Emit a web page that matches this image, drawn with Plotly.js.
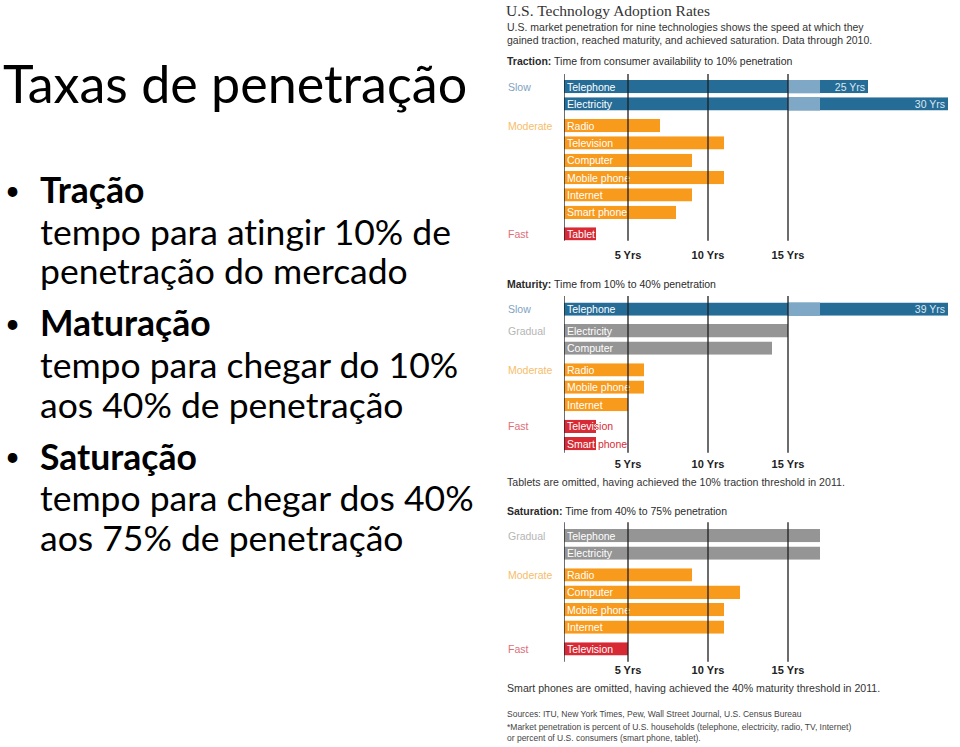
<!DOCTYPE html>
<html><head><meta charset="utf-8">
<script src="https://cdn.plot.ly/plotly-3.0.1.min.js"></script>
<style>html,body{margin:0;padding:0;background:#fff;} #chart{width:960px;height:747px;}
#chart text{font-variant-ligatures:none;font-feature-settings:"liga" 0, "dlig" 0;}</style>
</head><body><div id="chart"></div>
<script>
// ---------------- data ----------------
const tractionItems = ['Telephone','Electricity','Radio','Television','Computer','Mobile phone','Internet','Smart phone','Tablet'];
const tractionYears = [25,30,7,11,9,11,9,8,3];
const tractionSpeed = ['Slow','Slow','Moderate','Moderate','Moderate','Moderate','Moderate','Moderate','Fast'];

const maturityItems = ['Telephone','Electricity','Computer','Radio','Mobile phone','Internet','Television','Smart phone'];
const maturityYears = [39,15,14,6,6,5,3,3];
const maturitySpeed = ['Slow','Gradual','Gradual','Moderate','Moderate','Moderate','Fast','Fast'];

const saturationItems = ['Telephone','Electricity','Radio','Computer','Mobile phone','Internet','Television'];
const saturationYears = [17,17,9,12,11,11,5];
const saturationSpeed = ['Gradual','Gradual','Moderate','Moderate','Moderate','Moderate','Fast'];

const tickVals = [5,10,15];
const tickText = ['5 Yrs','10 Yrs','15 Yrs'];

const slideTitle = 'Taxas de penetração';
const bulletHeads = ['Tração','Maturação','Saturação'];
const bulletLines = [
  ['tempo para atingir 10% de','penetração do mercado'],
  ['tempo para chegar do 10%','aos 40% de penetração'],
  ['tempo para chegar dos 40%','aos 75% de penetração']
];

const chartTitle = 'U.S. Technology Adoption Rates';
const chartSubtitle = ['U.S. market penetration for nine technologies shows the speed at which they',
                       'gained traction, reached maturity, and achieved saturation. Data through 2010.'];
const panelHeads = [['Traction:','Time from consumer availability to 10% penetration'],
                    ['Maturity:','Time from 10% to 40% penetration'],
                    ['Saturation:','Time from 40% to 75% penetration']];
const panelNotes = ['', 'Tablets are omitted, having achieved the 10% traction threshold in 2011.',
                    'Smart phones are omitted, having achieved the 40% maturity threshold in 2011.'];
const sourceLines = ['Sources: ITU, New York Times, Pew, Wall Street Journal, U.S. Census Bureau',
                     '*Market penetration is percent of U.S. households (telephone, electricity, radio, TV, Internet)',
                     'or percent of U.S. consumers (smart phone, tablet).'];

// ---------------- styles ----------------
const W = 960, H = 747;
const SANS = 'Liberation Sans, Arial, sans-serif';
const SERIF = 'Liberation Serif, Times New Roman, serif';
const LEFT = 'Lato, Noto Sans, sans-serif';
const barColor = {Slow:'#256c97', Gradual:'#959595', Moderate:'#f89a1c', Fast:'#d72a35'};
const groupColor = {Slow:'#7ea3c2', Gradual:'#b5b5b5', Moderate:'#f7bd6a', Fast:'#dd6f78'};
const breakColor = '#7ea8c5';
const X_START = 1, X_MAX = 25.2, BREAK_START = 15, BREAK_END = 17, GAP = 0.25, BAR_W = 0.765;
const PX_PER_YEAR = 16, PLOT_LEFT = 564;
const px = x => x / W, py = y => 1 - y / H;
const X_DOMAIN = [px(PLOT_LEFT), px(PLOT_LEFT + (X_MAX - X_START) * PX_PER_YEAR)];

// hidden = years removed by the axis break in that panel
const panels = [
  {items:tractionItems, years:tractionYears, speed:tractionSpeed, hidden:5,
   xa:'x', ya:'y', top:74, bottom:240.7, padTop:0.73, padBot:0.39, standoff:6, headY:64.3, noteY:null},
  {items:maturityItems, years:maturityYears, speed:maturitySpeed, hidden:14,
   xa:'x2', ya:'y2', top:296, bottom:452.7, padTop:0.75, padBot:0.52, standoff:3, headY:287.3, noteY:486},
  {items:saturationItems, years:saturationYears, speed:saturationSpeed, hidden:0,
   xa:'x3', ya:'y3', top:522.3, bottom:661.7, padTop:0.77, padBot:0.74, standoff:0, headY:514.3, noteY:691.3}
];

function positions(speed){
  let g = 0;
  return speed.map((s,i) => { if(i > 0 && s !== speed[i-1]) g++; return i + g*GAP; });
}

const data = [], shapes = [], annotations = [];
const layout = {
  width: W, height: H, margin:{l:0,r:0,t:0,b:0}, paper_bgcolor:'#fff', plot_bgcolor:'rgba(0,0,0,0)',
  barmode:'overlay', showlegend:false, shapes, annotations
};

panels.forEach((p, k) => {
  const pos = positions(p.speed);
  const broken = p.years.map(v => p.hidden > 0 && v - p.hidden >= BREAK_END);
  const disp = p.years.map((v,i) => broken[i] ? v - p.hidden : v);
  const idx = broken.map((b,i) => b ? i : -1).filter(i => i >= 0);
  const common = {type:'bar', orientation:'h', xaxis:p.xa, yaxis:p.ya, width:BAR_W, base:X_START,
                  hoverinfo:'skip', textangle:0, constraintext:'none', showlegend:false};
  // coloured copy of labels (visible where label runs past bar end)
  data.push(Object.assign({}, common, {name:'ghost', x:disp.map(v => v - X_START), y:pos, text:p.items,
    textposition:'inside', insidetextanchor:'start',
    textfont:{family:SANS, size:10.5, color:p.speed.map(s => barColor[s])},
    marker:{color:'rgba(0,0,0,0)'}}));
  // main bars
  data.push(Object.assign({}, common, {name:'main', x:disp.map(v => v - X_START), y:pos, text:p.items,
    textposition:'inside', insidetextanchor:'start',
    textfont:{family:SANS, size:10.5, color:'#ffffff'},
    marker:{color:p.speed.map(s => barColor[s]), line:{width:0}}}));
  if(idx.length){
    data.push(Object.assign({}, common, {name:'break', base:BREAK_START,
      x:idx.map(() => BREAK_END - BREAK_START), y:idx.map(i => pos[i]),
      marker:{color:breakColor, line:{width:0}}}));
    data.push(Object.assign({}, common, {name:'endlabel', x:idx.map(i => disp[i] - X_START), y:idx.map(i => pos[i]),
      text:idx.map(i => p.years[i] + ' Yrs'), textposition:'inside', insidetextanchor:'end',
      textfont:{family:SANS, size:10.5, color:'#dbe7f1'}, marker:{color:'rgba(0,0,0,0)'}}));
  }
  const sfx = k === 0 ? '' : String(k+1);
  layout['xaxis'+sfx] = {domain:X_DOMAIN, range:[X_START, X_MAX], anchor:p.ya,
    showgrid:false, zeroline:false, showline:false, tickvals:tickVals, ticktext:tickText, ticks:'',
    tickfont:{family:SANS, size:11, color:'#222', weight:'bold'}, ticklabelstandoff:p.standoff, fixedrange:true};
  layout['yaxis'+sfx] = {domain:[py(p.bottom), py(p.top)],
    range:[pos[pos.length-1] + p.padBot, pos[0] - p.padTop], anchor:p.xa,
    showgrid:false, zeroline:false, showline:false, showticklabels:false, ticks:'', fixedrange:true};
  // rules drawn above bars
  [X_START].concat(tickVals).forEach(v => shapes.push({type:'line', xref:p.xa, yref:p.ya+' domain',
    x0:v, x1:v, y0:0, y1:1, layer:'above', line:{color:'#1e1e1e', width:1.3}}));
  // group labels
  p.speed.forEach((s,i) => {
    if(i === 0 || s !== p.speed[i-1]) annotations.push({xref:'paper', yref:p.ya, x:px(506), y:pos[i],
      xanchor:'left', yanchor:'middle', showarrow:false, text:s, font:{family:SANS, size:10.5, color:groupColor[s]}});
  });
  // panel heading
  annotations.push({xref:'paper', yref:'paper', x:px(505), y:py(p.headY - 0.347*10.5), xanchor:'left', yanchor:'middle',
    showarrow:false, text:'<b>'+panelHeads[k][0]+'</b> '+panelHeads[k][1], font:{family:SANS, size:10.5, color:'#2a2a2a'}});
  if(p.noteY) annotations.push({xref:'paper', yref:'paper', x:px(505), y:py(p.noteY - 0.347*10.6), xanchor:'left', yanchor:'middle',
    showarrow:false, text:panelNotes[k], font:{family:SANS, size:10.6, color:'#333'}});
});

// chart title / subtitle / sources
annotations.push({xref:'paper', yref:'paper', x:px(504), y:py(15.5 - 0.338*15.5), xanchor:'left', yanchor:'middle',
  showarrow:false, text:chartTitle, font:{family:SERIF, size:15.5, color:'#333'}});
chartSubtitle.forEach((t,i) => annotations.push({xref:'paper', yref:'paper', x:px(505), y:py(30.7 + 13*i - 0.347*10.5),
  xanchor:'left', yanchor:'middle', showarrow:false, text:t, font:{family:SANS, size:10.5, color:'#333'}}));
sourceLines.forEach((t,i) => annotations.push({xref:'paper', yref:'paper', x:px(505), y:py([716.7,730,740.5][i] - 0.347*8.5),
  xanchor:'left', yanchor:'middle', showarrow:false, text:t, font:{family:SANS, size:8.5, color:'#444'}}));

// left slide text
const TS = 52, BS = 35.5, DOT = 26;
annotations.push({xref:'paper', yref:'paper', x:px(1), y:py(103.3 - 0.387*TS), xanchor:'left', yanchor:'middle',
  showarrow:false, text:slideTitle, font:{family:LEFT, size:TS, color:'#000'}});
const headBase = [203.3, 336.7, 470];
bulletHeads.forEach((h,i) => {
  annotations.push({xref:'paper', yref:'paper', x:px(3), y:py(headBase[i] - 0.387*BS), xanchor:'left', yanchor:'middle',
    showarrow:false, text:'•', font:{family:LEFT, size:DOT, color:'#000'}});
  annotations.push({xref:'paper', yref:'paper', x:px(38), y:py(headBase[i] - 0.387*BS), xanchor:'left', yanchor:'middle',
    showarrow:false, text:'<b>'+h+'</b>', font:{family:LEFT, size:BS, color:'#000'}});
  bulletLines[i].forEach((t,j) => annotations.push({xref:'paper', yref:'paper', x:px(38),
    y:py(headBase[i] + 41.7 + 39.5*j - 0.387*BS), xanchor:'left', yanchor:'middle',
    showarrow:false, text:t, font:{family:LEFT, size:BS, color:'#000'}}));
});

const gd = document.getElementById('chart');
Plotly.newPlot(gd, data, layout, {staticPlot:true, displayModeBar:false}).then(() => {
  try {
    const svg = gd.querySelector('svg.main-svg');
    const NS = 'http://www.w3.org/2000/svg';
    let defs = svg.querySelector('defs');
    if(!defs){ defs = document.createElementNS(NS,'defs'); svg.insertBefore(defs, svg.firstChild); }
    let n = 0;
    gd.querySelectorAll('g.trace.bars').forEach(tg => {
      const d = tg.__data__;
      const tr = d && d[0] && d[0].trace;
      if(!tr || tr.name !== 'main') return;
      tg.querySelectorAll('g.point').forEach(pt => {
        const path = pt.querySelector('path'); if(!path) return;
        const bb = path.getBBox();
        const cp = document.createElementNS(NS,'clipPath');
        cp.setAttribute('id','barclip'+n);
        const r = document.createElementNS(NS,'rect');
        r.setAttribute('x', bb.x); r.setAttribute('y', bb.y);
        r.setAttribute('width', bb.width); r.setAttribute('height', bb.height);
        cp.appendChild(r); defs.appendChild(cp);
        pt.setAttribute('clip-path','url(#barclip'+n+')');
        n++;
      });
    });
  } catch(e) { console.log(e); }
});
</script>
</body></html>
